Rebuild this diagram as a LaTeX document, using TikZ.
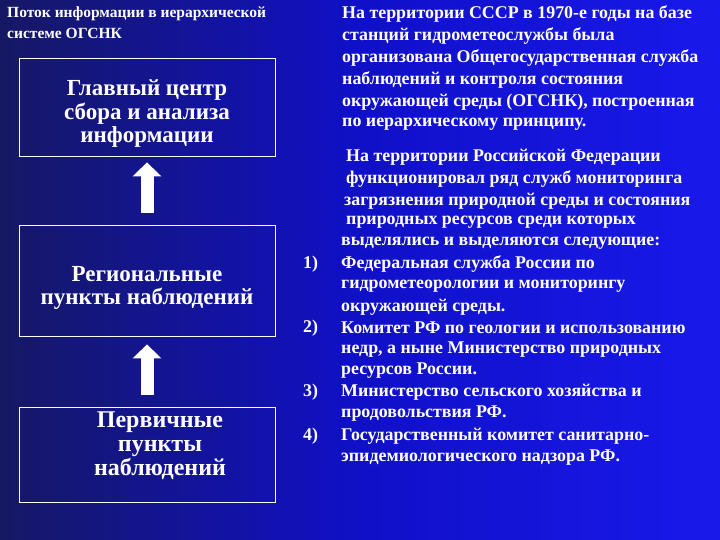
\documentclass[tikz,border=0pt]{standalone}
\usepackage{fontspec}
\setmainfont{Liberation Serif}
\usetikzlibrary{arrows.meta}
\definecolor{bgdark}{RGB}{22,24,100}
\definecolor{bgmid}{RGB}{16,16,200}
\definecolor{bgbright}{RGB}{25,25,235}
\begin{document}
\begin{tikzpicture}[x=1pt,y=-1pt,
  box/.style={draw=white,line width=0.8pt},
  boxtext/.style={text=white,align=center,font=\rmfamily\bfseries\fontsize{23}{23.5}\selectfont},
  rt/.style={anchor=west,text=white,inner sep=0pt,font=\rmfamily\bfseries\fontsize{17.9}{18}\selectfont},
  upar/.style={white,line width=13pt,-{Triangle[width=28pt,length=14pt]}}]
\shade[left color=bgdark,right color=bgbright,middle color=bgmid] (0,0) rectangle (720,540);
\useasboundingbox (0,0) rectangle (720,540);
\node[anchor=west,text=white,inner sep=0pt,font=\rmfamily\bfseries\fontsize{15.5}{16}\selectfont] (t1) at (7,14) {Поток информации в иерархической};
\node[anchor=west,text=white,inner sep=0pt,font=\rmfamily\bfseries\fontsize{15.5}{16}\selectfont] (t2) at (7,33) {системе ОГСНК};
\node[box,minimum width=256pt,minimum height=98pt] (b1) at (147,107) {};
\node[box,minimum width=256pt,minimum height=111pt] (b2) at (147,280.5) {};
\node[box,minimum width=256pt,minimum height=95pt] (b3) at (147,454.5) {};
\node[boxtext] (l1) at (147,114) {Главный центр\\сбора и анализа\\информации};
\node[boxtext] (l2) at (147,288) {Региональные\\пункты наблюдений};
\node[boxtext,font=\rmfamily\bfseries\fontsize{24}{24}\selectfont] (l3) at (160,446) {Первичные\\пункты\\наблюдений};
\draw[upar,shorten <=12pt,shorten >=6pt] (b2.north) -- (b1.south);
\draw[upar,shorten <=12pt,shorten >=8pt] (b3.north) -- (b2.south);
\node[rt] (r1) at (342,14) {На территории СССР в 1970-е годы на базе};
\node[rt] (r2) at (342,36) {станций гидрометеослужбы была};
\node[rt] (r3) at (342,58) {организована Общегосударственная служба};
\node[rt] (r4) at (342,80) {наблюдений и контроля состояния};
\node[rt] (r5) at (342,102) {окружающей среды (ОГСНК), построенная};
\node[rt] (r6) at (342,124) {по иерархическому принципу.};
\node[rt] (s1) at (346,157) {На территории Российской Федерации};
\node[rt] (s2) at (346,179) {функционировал ряд служб мониторинга};
\node[rt] (s3) at (344,201) {загрязнения природной среды и состояния};
\node[rt] (s4) at (346,222) {природных ресурсов среди которых};
\node[rt] (s5) at (341,243) {выделялись и выделяются следующие:};
\node[rt] (n1) at (303,264) {1)};
\node[rt] (s6) at (341,264) {Федеральная служба России по};
\node[rt] (s7) at (341,286) {гидрометеорологии и мониторингу};
\node[rt] (s8) at (341,307) {окружающей среды.};
\node[rt] (n2) at (303,328) {2)};
\node[rt] (s9) at (341,328) {Комитет РФ по геологии и использованию};
\node[rt] (s10) at (341,350) {недр, а ныне Министерство природных};
\node[rt] (s11) at (341,371) {ресурсов России.};
\node[rt] (n3) at (303,392) {3)};
\node[rt] (s12) at (341,392) {Министерство сельского хозяйства и};
\node[rt] (s13) at (341,414) {продовольствия РФ.};
\node[rt] (n4) at (303,436) {4)};
\node[rt] (s14) at (341,436) {Государственный комитет санитарно-};
\node[rt] (s15) at (341,458) {эпидемиологического надзора РФ.};
\end{tikzpicture}
\end{document}
